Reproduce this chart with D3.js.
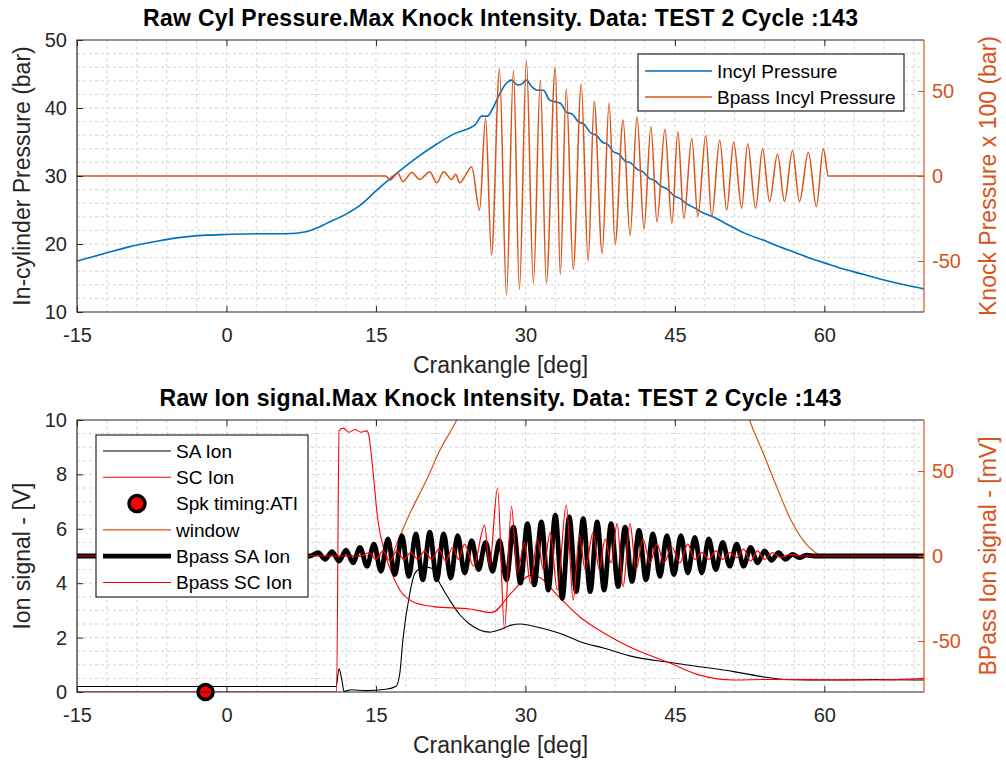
<!DOCTYPE html>
<html>
<head>
<meta charset="utf-8">
<title>Knock Intensity</title>
<script src="https://cdn.jsdelivr.net/npm/d3@7"></script>
<style>
  body { margin: 0; background: #fff; }
  svg text { font-family: "Liberation Sans", Arial, Helvetica, sans-serif; }
</style>
</head>
<body>
<div id="chart"></div>
<script>
// tick values
var xTicks = [-15, 0, 15, 30, 45, 60];
var pressureTicks = [10, 20, 30, 40, 50];
var ionTicks = [0, 2, 4, 6, 8, 10];
var rightTicks = [-50, 0, 50];

// all series are [crank angle (deg), value]
var incylPressure = [[-15,17.5],[-12,18.7],[-10,19.5],[-7,20.4],[-5,20.9],[-2,21.3],[0,21.4],[3,21.5],[6,21.5],[8,21.8],
  [9,22.3],[10,23.0],[12,24.4],[13.5,25.8],[15,27.8],[17,30.3],[19,32.6],[21,34.6],[23,36.3],[25,37.6],[25.6,38.8],
  [26.2,38.8],[26.6,39.6],[27.4,42.0],[28.0,43.5],[28.6,44.1],[29.2,43.4],[29.6,43.5],[30.1,44.1],[30.6,43.2],
  [31.2,42.6],[31.8,42.6],[32.4,41.2],[33.0,40.9],[33.5,40.7],[34.1,39.4],[34.7,39.1],[35.3,38.0],[35.9,37.6],
  [36.5,36.4],[37.1,36.0],[37.7,35.0],[38.3,34.6],[38.8,33.6],[39.4,33.2],[40,32.2],[40.6,31.9],[41.2,31.0],
  [41.8,30.6],[42.4,29.7],[43.0,29.3],[43.6,28.5],[44.2,28.1],[44.9,27.1],[45.5,26.7],[46.2,25.9],[47,25.3],
  [47.8,24.6],[48.8,24.0],[50,23.1],[52,21.6],[54,20.5],[55.5,19.6],[57,18.8],[58.8,17.8],[60.5,17.0],
  [62.2,16.2],[64,15.5],[66,14.7],[68,14.0],[70,13.4]];

var bpassIncylPressure = [[-15,0],[16,0],[16.4,-2.4],[17.2,1.6],[17.7,-3.3],[18.6,2],[19.4,-2],[20.4,2.5],[21.1,-4],
  [21.8,2.5],[22.6,-2],[23.0,1],[23.4,-4],[24.0,0.5],[24.6,5.5],[25.4,-20],[26.0,34],[26.6,-46.5],[27.4,63],
  [28.1,-70],[28.8,62],[29.4,-66.7],[30.1,68],[30.8,-63],[31.5,56.5],[32.1,-63],[33.0,64],[33.5,-58],[34.1,51],
  [34.8,-55],[35.6,54],[36.3,-50],[36.9,44],[37.7,-45.5],[38.4,43],[39.0,-40],[39.8,33],[40.5,-35],[41.2,35],
  [41.9,-31],[42.6,29],[43.2,-27],[44.0,27.5],[44.7,-28],[45.3,26],[45.9,-25],[46.7,22],[47.3,-24],[48.1,24],
  [48.7,-24],[49.5,21],[50.2,-20],[50.9,20],[51.7,-19],[52.3,19],[53.1,-19],[53.8,16],[54.5,-15],[55.3,13],
  [56.0,-15],[56.8,15],[57.5,-15],[58.4,14],[59.2,-18],[59.9,16],[60.4,0],[70,0]];

var saIon = [[-15,0.2],[11.0,0.2],[11.3,0.85],[11.6,0.4],[11.8,0.02],[12.5,0.08],[14,0.05],[16,0.1],[17.0,0.2],
  [17.4,0.7],[17.7,1.9],[18.4,3.63],[18.9,4.36],[19.8,4.6],[20.6,4.55],[21.4,4.0],[22.4,3.38],[23.4,2.85],
  [24.4,2.5],[25.4,2.28],[26.4,2.2],[27.5,2.3],[28.5,2.45],[29.5,2.5],[31,2.4],[33.5,2.15],[35.5,1.85],[38,1.6],
  [40.8,1.3],[44.2,1.1],[47.5,0.93],[50.9,0.75],[54.2,0.54],[56,0.46],[61,0.44],[65,0.46],[70,0.44]];

var scIon = [[-15,0],[11.05,0],[11.3,9.6],[11.7,9.7],[12.3,9.55],[12.9,9.65],[13.5,9.55],[14.1,9.6],[14.3,9.4],
  [14.6,8.5],[15.2,6.3],[15.9,5.1],[16.6,4.36],[17.4,3.75],[18.7,3.32],[20.8,3.14],[24.4,3.05],[26.6,2.92],
  [28.6,3.65],[30.6,4.3],[31.5,4.2],[33.1,3.6],[35.5,2.75],[37.5,2.25],[40.8,1.6],[44.2,1.11],[47.5,0.62],
  [50.9,0.44],[54.2,0.46],[60.9,0.45],[65.4,0.44],[70,0.5]];

var sparkTiming = [[-2.1, 0]];

var knockWindow = [[-15,0],[16.5,0],[17.2,9],[18.4,25],[20.1,45],[21.4,62],[23.1,80],[24.6,100],[26,115],[27,120],
  [50,120],[51,110],[52.5,80],[53.9,60],[55.2,41],[56.5,23],[57.9,9],[59.2,1.6],[59.7,0],[70,0]];

var bpassSaIon = [[-15,0],[8.4,0],[9.2,2],[9.9,-2],[10.6,2.5],[11.3,-3],[12.0,3.5],[12.7,-4],[13.4,5],[14.1,-6],
  [14.8,7],[15.5,-9],[16.2,10],[16.9,-11],[17.6,12],[18.3,-12],[19.0,13],[19.7,-14],[20.4,14],[21.1,-14],
  [21.8,13],[22.5,-13],[23.2,12],[23.9,-10],[24.6,9],[25.3,-8],[26.0,8],[26.7,-9],[27.4,9],[28.1,-14],[28.8,17],
  [29.5,-16],[30.2,19],[30.9,-17],[31.6,20],[32.3,-20],[33.0,24],[33.7,-25],[34.4,23],[35.1,-21],[35.8,22],
  [36.5,-21],[37.2,20],[37.9,-20],[38.6,19],[39.3,-18],[40.0,17],[40.7,-15],[41.4,15],[42.1,-14],[42.8,13],
  [43.5,-12],[44.2,12],[44.9,-11],[45.6,12],[46.3,-10],[47.0,11],[47.7,-10],[48.4,10],[49.1,-8],[49.8,8],
  [50.5,-6],[51.2,7],[51.9,-6],[52.6,5],[53.3,-4],[54.0,3],[54.7,-2.5],[55.4,2],[56.1,-2],[56.8,1],[57.5,-1],
  [58.2,0.5],[59,0],[70,0]];

var bpassScIon = [[-15,0],[13.5,0],[14.3,2],[15.0,-2],[15.7,3],[16.4,-3],[17.1,3],[17.8,-2],[18.5,2],[19.2,-2],
  [19.9,3],[20.6,-2],[21.3,4],[22.0,-3],[22.7,5],[23.3,-2],[23.9,7],[24.8,-6],[25.9,18],[26.4,-6],[27.2,40],
  [27.9,-43],[28.6,29],[29.2,-10],[29.9,8],[30.5,-16],[31.2,10],[31.8,-8],[32.5,14],[33.2,-20],[34.1,30],
  [34.8,-26],[35.4,12],[36.0,-8],[36.8,14],[37.4,-8],[38.0,10],[38.6,-4],[39.2,19],[39.8,-18],[40.5,19],
  [41.1,-8],[41.8,10],[42.5,-4],[43.2,7],[43.9,-4],[44.7,5],[45.5,-4],[46.3,7],[47.0,-2],[47.7,2],[48.4,-2],
  [49.1,3],[49.8,-2],[50.5,2],[51.2,-1],[51.9,4],[52.6,-3],[53.3,3],[54.0,-2],[54.8,2],[55.6,-1],[56.5,1],
  [57.5,0],[70,0]];

var BLUE = "#0072BD", ORANGE = "#D95319", AXIS = "#262626";

var svg = d3.select("#chart").append("svg")
  .attr("width", 1006).attr("height", 761);

var x = d3.scaleLinear().domain([-15, 70]).range([77, 924]);

function drawPanel(p) {
  var y = d3.scaleLinear().domain(p.yDomain).range([p.bottom, p.top]);
  var yR = d3.scaleLinear().domain([-80, 80]).range([p.bottom, p.top]);
  var g = svg.append("g");

  // grid (major + minor, all dashed)
  var grid = g.append("g").attr("stroke", "#d4d4d4").attr("stroke-dasharray", "3,3");
  grid.selectAll("line.v").data(d3.range(-12, 70, 3)).enter().append("line")
    .attr("x1", x).attr("x2", x).attr("y1", p.top).attr("y2", p.bottom);
  grid.selectAll("line.h").data(d3.range(p.yDomain[0] + p.minor, p.yDomain[1], p.minor)).enter().append("line")
    .attr("x1", 77).attr("x2", 924).attr("y1", y).attr("y2", y);

  svg.append("clipPath").attr("id", p.id)
    .append("rect").attr("x", 77).attr("y", p.top).attr("width", 847).attr("height", p.bottom - p.top);

  var plot = g.append("g").attr("clip-path", "url(#" + p.id + ")");
  return { g: g, plot: plot, y: y, yR: yR, p: p };
}

function addLine(panel, data, scale, color, width) {
  panel.plot.append("path")
    .datum(data)
    .attr("fill", "none")
    .attr("stroke", color)
    .attr("stroke-width", width)
    .attr("stroke-linejoin", "round")
    .attr("d", d3.line()
      .curve(d3.curveMonotoneX)
      .x(function(d) { return x(d[0]); })
      .y(function(d) { return scale(d[1]); }));
}

function drawAxes(panel, leftTicks) {
  var p = panel.p, g = panel.g;
  var ax = g.append("g");
  var fmt = function(d) { return String(d); };

  ax.append("g").attr("transform", "translate(0," + p.bottom + ")")
    .call(d3.axisBottom(x).tickValues(xTicks).tickFormat(fmt).tickSizeInner(-6).tickSizeOuter(0).tickPadding(16))
    .attr("color", AXIS);
  ax.append("g").attr("transform", "translate(0," + p.top + ")")
    .call(d3.axisTop(x).tickValues(xTicks).tickSizeInner(-6).tickSizeOuter(0).tickFormat(""))
    .attr("color", AXIS);
  ax.append("g").attr("transform", "translate(77,0)")
    .call(d3.axisLeft(panel.y).tickValues(leftTicks).tickFormat(fmt).tickSizeInner(-6).tickSizeOuter(0).tickPadding(10))
    .attr("color", AXIS);
  ax.append("g").attr("transform", "translate(924,0)")
    .call(d3.axisRight(panel.yR).tickValues(rightTicks).tickFormat(fmt).tickSizeInner(-6).tickSizeOuter(0).tickPadding(8))
    .attr("color", ORANGE);
  ax.selectAll(".domain").remove();
  ax.selectAll("text").style("font-family", "'Liberation Sans', Arial, sans-serif").style("font-size", "20px");

  // box
  g.append("path").attr("fill", "none").attr("stroke", AXIS).attr("stroke-width", 1.2)
    .attr("d", "M924," + p.top + "H77V" + p.bottom + "H924");
  g.append("line").attr("x1", 924).attr("x2", 924).attr("y1", p.top).attr("y2", p.bottom)
    .attr("stroke", ORANGE).attr("stroke-width", 1.2);

  // titles and labels
  g.append("text").attr("x", 500.5).attr("y", p.top - 14).attr("text-anchor", "middle")
    .style("font-size", "23px").style("font-weight", "bold").attr("fill", "#000")
    .attr("textLength", p.titleLength).attr("lengthAdjust", "spacing")
    .text(p.title);
  g.append("text").attr("x", 500.5).attr("y", p.bottom + 61).attr("text-anchor", "middle")
    .style("font-size", "23px").attr("fill", AXIS).text("Crankangle [deg]");
  var mid = (p.top + p.bottom) / 2;
  g.append("text").attr("transform", "translate(22," + mid + ") rotate(-90)").attr("dy", "0.35em")
    .attr("text-anchor", "middle").style("font-size", "23px").attr("fill", AXIS).text(p.yLabel);
  g.append("text").attr("transform", "translate(988," + mid + ") rotate(-90)").attr("dy", "0.35em")
    .attr("text-anchor", "middle").style("font-size", "23px").attr("fill", ORANGE).text(p.yRightLabel);
}

function drawLegend(box, items) {
  var lg = svg.append("g");
  lg.append("rect").attr("x", box.x).attr("y", box.y).attr("width", box.w).attr("height", box.h)
    .attr("fill", "#fff").attr("stroke", AXIS).attr("stroke-width", 1.2);
  items.forEach(function(it, i) {
    var yy = box.y + box.first + i * box.step;
    if (it.marker) {
      lg.append("circle").attr("cx", (box.lx1 + box.lx2) / 2).attr("cy", yy).attr("r", 8)
        .attr("fill", "#ff0000").attr("stroke", "#000").attr("stroke-width", 3.5);
    } else {
      lg.append("line").attr("x1", box.lx1).attr("x2", box.lx2).attr("y1", yy).attr("y2", yy)
        .attr("stroke", it.color).attr("stroke-width", it.width);
    }
    lg.append("text").attr("x", box.tx).attr("y", yy).attr("dy", "0.35em")
      .style("font-size", "19px").attr("fill", "#000").text(it.label);
  });
}

// ---- top panel: cylinder pressure
var pressurePanel = drawPanel({ id: "clipTop", top: 40, bottom: 312, yDomain: [10, 50], minor: 2 });
addLine(pressurePanel, incylPressure, pressurePanel.y, BLUE, 1.6);
addLine(pressurePanel, bpassIncylPressure, pressurePanel.yR, ORANGE, 1.5);
pressurePanel.p.title = "Raw Cyl Pressure.Max Knock Intensity. Data: TEST 2 Cycle :143";
pressurePanel.p.titleLength = 715;
pressurePanel.p.yLabel = "In-cylinder Pressure (bar)";
pressurePanel.p.yRightLabel = "Knock Pressure x 100 (bar)";
drawAxes(pressurePanel, pressureTicks);
drawLegend({ x: 638, y: 54, w: 266, h: 57, first: 17, step: 26, lx1: 645, lx2: 712, tx: 717 }, [
  { label: "Incyl Pressure", color: BLUE, width: 1.6 },
  { label: "Bpass Incyl Pressure", color: ORANGE, width: 1.5 }
]);

// ---- bottom panel: ion signal
var ionPanel = drawPanel({ id: "clipBot", top: 420, bottom: 692, yDomain: [0, 10], minor: 0.5 });
addLine(ionPanel, saIon, ionPanel.y, "#000", 1.1);
addLine(ionPanel, scIon, ionPanel.y, "#ff0000", 1.1);
addLine(ionPanel, knockWindow, ionPanel.yR, ORANGE, 1.2);
addLine(ionPanel, bpassSaIon, ionPanel.yR, "#000", 4.8);
addLine(ionPanel, bpassScIon, ionPanel.yR, "#ff0000", 1.2);
ionPanel.g.selectAll("circle.spk").data(sparkTiming).enter().append("circle")
  .attr("class", "spk")
  .attr("cx", function(d) { return x(d[0]); })
  .attr("cy", function(d) { return ionPanel.y(d[1]); })
  .attr("r", 7.5).attr("fill", "#ff0000").attr("stroke", "#000").attr("stroke-width", 3.5);
ionPanel.p.title = "Raw Ion signal.Max Knock Intensity. Data: TEST 2 Cycle :143";
ionPanel.p.titleLength = 682;
ionPanel.p.yLabel = "Ion signal - [V]";
ionPanel.p.yRightLabel = "BPass Ion signal - [mV]";
drawAxes(ionPanel, ionTicks);
drawLegend({ x: 96, y: 435, w: 212, h: 162, first: 16, step: 26.3, lx1: 103, lx2: 171, tx: 176 }, [
  { label: "SA Ion", color: "#000", width: 1.1 },
  { label: "SC Ion", color: "#ff0000", width: 1.1 },
  { label: "Spk timing:ATI", marker: true },
  { label: "window", color: ORANGE, width: 1.2 },
  { label: "Bpass SA Ion", color: "#000", width: 4.8 },
  { label: "Bpass SC Ion", color: "#ff0000", width: 1.2 }
]);
</script>
</body>
</html>
